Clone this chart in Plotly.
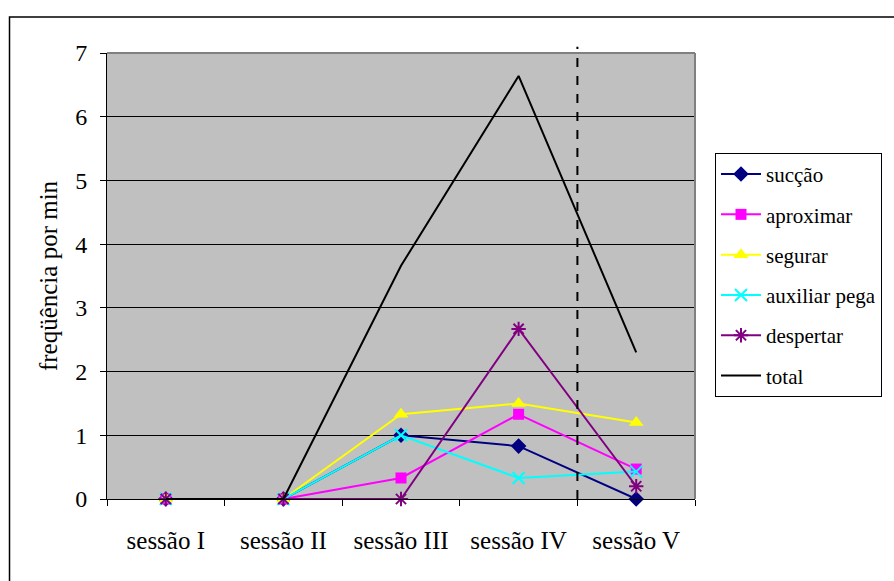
import plotly.graph_objects as go

sessoes = ["sessão I", "sessão II", "sessão III", "sessão IV", "sessão V"]
succao = [0, 0, 1.0, 0.83, 0]
aproximar = [0, 0, 0.33, 1.33, 0.47]
segurar = [0, 0, 1.33, 1.5, 1.2]
auxiliar_pega = [0, 0, 1.0, 0.33, 0.43]
despertar = [0, 0, 0, 2.67, 0.2]
total = [0, 0, 3.66, 6.64, 2.3]
y_ticks = [0, 1, 2, 3, 4, 5, 6, 7]

FONT = "Liberation Serif"

series = [
    ("sucção", succao, "#000080", "diamond", 12, 0),
    ("aproximar", aproximar, "#FF00FF", "square", 11, 0),
    ("segurar", segurar, "#FFFF00", "triangle-up", 13, 0),
    ("auxiliar pega", auxiliar_pega, "#00FFFF", "x-thin-open", 12, 2),
    ("despertar", despertar, "#800080", "asterisk-open", 12, 2),
]

fig = go.Figure()
for i, (name, vals, color, symbol, size, mlw) in enumerate(series):
    fig.add_trace(go.Scatter(
        x=sessoes, y=vals, name=name, mode="lines+markers",
        line=dict(color=color, width=2),
        marker=dict(symbol=symbol, size=size, color=color,
                    line=dict(color=color, width=mlw)),
        legendgroup=f"g{i}",
        cliponaxis=False,
    ))
fig.add_trace(go.Scatter(
    x=sessoes, y=total, name="total", mode="lines",
    line=dict(color="black", width=2), legendgroup="g5",
))

# separator between sessions IV and V
fig.add_shape(type="line", xref="x", yref="paper", x0=3.5, x1=3.5,
              y0=0, y1=1.014, line=dict(color="black", width=2, dash="dash"))
# gray top/right frame of the plot area
fig.add_shape(type="line", xref="paper", yref="paper", x0=0, x1=1, y0=1, y1=1,
              line=dict(color="#808080", width=2))
fig.add_shape(type="line", xref="paper", yref="paper", x0=1, x1=1, y0=0, y1=1,
              line=dict(color="#808080", width=2))
# outer chart border
fig.add_shape(type="rect", xref="paper", yref="paper",
              x0=-0.1658, x1=2.0, y0=-1.0, y1=1.0807,
              line=dict(color="black", width=1.5), layer="below")

fig.update_layout(
    width=894, height=581,
    margin=dict(l=107, r=196, t=53, b=82),
    paper_bgcolor="white", plot_bgcolor="#C0C0C0",
    font=dict(family=FONT, size=24, color="black"),
    showlegend=True,
    legend=dict(
        x=1.034, y=0.776, xanchor="left", yanchor="top",
        bgcolor="white", bordercolor="black", borderwidth=1,
        font=dict(family=FONT, size=21), tracegroupgap=10,
        itemwidth=40,
    ),
)
fig.update_xaxes(
    type="category", range=[-0.5, 4.5], tickson="boundaries",
    ticks="outside", ticklen=6,
    tickcolor="black", tickwidth=1, showline=True, linecolor="black",
    linewidth=1, showgrid=False, ticklabelstandoff=19,
    tickfont=dict(family=FONT, size=25),
)
fig.update_yaxes(
    range=[0, 7], tickvals=y_ticks, ticks="outside", ticklen=6,
    tickcolor="black", showline=True, linecolor="black", linewidth=1,
    showgrid=True, gridcolor="black", gridwidth=1, zeroline=False,
    ticklabelstandoff=8,
    tickfont=dict(family=FONT, size=24),
    title=dict(text="freqüência por min", font=dict(family=FONT, size=25),
               standoff=10),
)

fig.write_html("out.html")
